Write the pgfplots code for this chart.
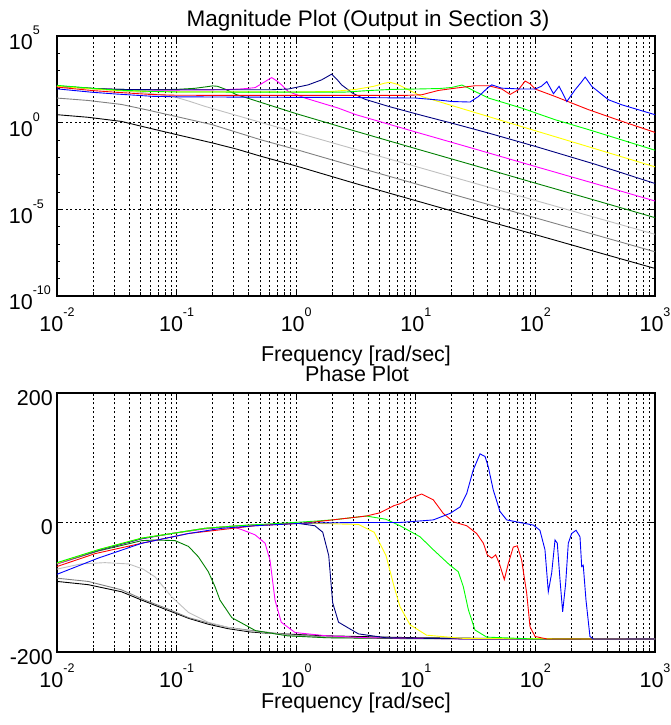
\documentclass[border=0pt]{standalone}
\usepackage{fontspec}
\setmainfont{Liberation Sans}
\usepackage{pgfplots}
\pgfplotsset{compat=1.18}

\definecolor{mgray}{rgb}{0.5,0.5,0.5}
\definecolor{lgray}{rgb}{0.75,0.75,0.75}
\definecolor{dgreen}{rgb}{0,0.5,0}
\definecolor{navy}{rgb}{0,0,0.5}
\definecolor{mag}{rgb}{1,0,1}
\definecolor{yel}{rgb}{1,1,0}
\definecolor{lgreen}{rgb}{0,1,0}
\definecolor{mred}{rgb}{1,0,0}
\definecolor{mblue}{rgb}{0,0,1}

\newcommand\lab{\fontsize{21.5}{24}\selectfont}
\newcommand\sups[1]{\raisebox{15pt}{\fontsize{12.5}{13}\selectfont #1}}

\pgfplotsset{
  every axis plot/.append style={line width=0.9pt, mark=none},
  tick label style={font=\lab},
  grid style={black, line width=0.7pt, dash pattern=on 2pt off 2.5pt},
}

\begin{document}
\begin{tikzpicture}
\useasboundingbox (0pt,0pt) rectangle (670pt,725pt);

% ---------------- magnitude ----------------
\begin{axis}[at={(57pt,429pt)}, anchor=south west,
    scale only axis, width=598pt, height=260pt,
    xmode=log, xmin=1e-2, xmax=1e3,
    xtick={1e-2,1e-1,1,1e1,1e2,1e3},
    minor xtick={2e-2,3e-2,4e-2,5e-2,6e-2,7e-2,8e-2,9e-2,
                 0.2,0.3,0.4,0.5,0.6,0.7,0.8,0.9,2,3,4,5,6,7,8,9,
                 20,30,40,50,60,70,80,90,200,300,400,500,600,700,800,900},
    xticklabels={10\sups{-2},10\sups{-1},10\sups{0},10\sups{1},10\sups{2},10\sups{3}},
    xticklabel style={anchor=north, inner sep=0pt, yshift=-12pt},
    tick align=inside,
    major tick length=6pt, minor tick length=3.5pt,
    tick style={black, line width=0.7pt},
    axis line style={line width=1.3pt},
    xmajorgrids, xminorgrids, ymajorgrids,
    ymode=log, ymin=1e-10, ymax=1e5,
    ytick={1e-10,1e-5,1,1e5},
    minor ytick={1e-9,1e-8,1e-7,1e-6,1e-4,1e-3,1e-2,1e-1,1e1,1e2,1e3,1e4},
    yticklabels={10\rlap{\sups{-10}},10\rlap{\sups{-5}},10\rlap{\sups{0}},10\rlap{\sups{5}}},
    yticklabel style={anchor=east, inner sep=0pt, xshift=-24pt, yshift=-2pt},
  ]
  \addplot[black] coordinates {(1e-2,2.884) (1.820e-2,2.042) (3.467e-2,1.175) (5.623e-2,0.5248) (0.1,0.2042) (0.1995,6.761e-2) (0.3162,3.020e-2) (0.5012,1.175e-2) (1,3.162e-3) (3.162,3.020e-4) (10,3.162e-5) (31.62,3.311e-6) (100,3.467e-7) (316.2,3.631e-8) (1000,3.890e-9)};
  \addplot[mgray] coordinates {(1e-2,26.30) (1.820e-2,19.05) (3.467e-2,11.22) (5.623e-2,5.495) (0.1,2.239) (0.1995,0.7586) (0.3162,0.2818) (0.5012,0.1047) (1,2.818e-2) (3.162,2.818e-3) (10,2.951e-4) (31.62,3.090e-5) (100,3.236e-6) (316.2,3.388e-7) (1000,3.548e-8)};
  \addplot[lgray] coordinates {(1e-2,125.9) (2.512e-2,79.43) (5.012e-2,56.23) (7.943e-2,38.02) (0.1,28.18) (0.1259,17.78) (0.1726,8.710) (0.3162,2.630) (0.5848,0.7762) (3.162,2.818e-2) (10,2.951e-3) (31.62,3.090e-4) (100,3.236e-5) (316.2,3.388e-6) (1000,3.631e-7)};
  \addplot[dgreen] coordinates {(1e-2,131.8) (1.995e-2,95.50) (3.162e-2,83.18) (6.310e-2,79.43) (0.1,83.18) (0.1413,95.50) (0.1778,117.5) (0.1995,131.8) (0.2188,125.9) (0.2512,89.13) (0.3162,41.69) (0.5012,15.14) (1,3.311) (3.162,0.3162) (10,3.162e-2) (31.62,3.236e-3) (100,3.236e-4) (316.2,3.311e-5) (1000,3.311e-6)};
  \addplot[mag] coordinates {(1e-2,125.9) (1.995e-2,93.33) (3.162e-2,83.18) (6.310e-2,75.86) (0.1,75.86) (0.2512,79.43) (0.3548,89.13) (0.4529,104.7) (0.5495,234.4) (0.6237,398.1) (0.6918,251.2) (0.7551,151.4) (0.8590,63.10) (1.186,26.30) (1.633,13.49) (2.249,6.918) (3.162,2.884) (10,0.2884) (31.62,2.951e-2) (100,2.951e-3) (316.2,3.020e-4) (1000,3.020e-5)};
  \addplot[navy] coordinates {(1e-2,125.9) (1.995e-2,93.33) (3.162e-2,83.18) (6.310e-2,79.43) (0.3162,79.43) (0.6237,79.43) (0.8590,87.10) (1.259,151.4) (1.633,295.1) (1.982,631.0) (2.188,316.2) (2.399,151.4) (2.965,50.12) (3.758,22.39) (5.902,8.710) (11.22,2.630) (21.33,0.8318) (40.55,0.2512) (100,4.266e-2) (316.2,3.981e-3) (1000,3.090e-4)};
  \addplot[yel] coordinates {(1e-2,125.9) (1.995e-2,89.13) (3.162e-2,70.79) (6.310e-2,61.66) (0.1,60.26) (1,58.88) (1.995,63.10) (3.162,83.18) (4.467,125.9) (5.495,190.5) (6.095,213.8) (7.079,158.5) (8.147,97.72) (11.22,32.36) (21.33,8.511) (40.55,2.239) (76.91,0.5888) (146.2,0.1549) (278.0,4.074e-2) (1000,2.818e-3)};
  \addplot[lgreen] coordinates {(1e-2,141.3) (1.995e-2,95.50) (3.162e-2,75.86) (6.310e-2,63.10) (0.1,58.88) (1,57.54) (2.512,57.54) (3.981,70.79) (6.310,83.18) (10,87.10) (15.85,93.33) (19.95,107.2) (24.27,147.9) (27.54,100) (31.33,63.10) (40.55,26.30) (76.91,6.918) (146.2,1.479) (278.0,0.3981) (1000,2.570e-2)};
  \addplot[mred] coordinates {(1e-2,112.2) (1.995e-2,70.79) (3.162e-2,56.23) (6.310e-2,41.69) (0.1,38.02) (1,37.15) (7.943,37.15) (11.22,40.74) (15.49,72.44) (21.38,97.72) (31.33,134.9) (40.55,134.9) (52.36,87.10) (61.52,42.66) (72.11,79.43) (82.04,251.2) (90.36,173.8) (99.54,87.10) (146.2,32.36) (278.0,5.623) (527.2,1.202) (1000,0.2754)};
  \addplot[mblue] coordinates {(1e-2,89.13) (1.995e-2,56.23) (3.162e-2,44.67) (6.310e-2,33.11) (0.1,30.90) (1,28.84) (3.162,28.18) (10,26.30) (15.85,19.95) (19.95,16.60) (28.44,15.49) (33.42,32.36) (39.81,100) (43.15,151.4) (52.36,97.72) (76.91,87.10) (99.54,87.10) (112.2,125.9) (124.5,234.4) (141.6,46.77) (157.8,125.9) (183.2,16.60) (214.8,79.43) (239.9,199.5) (260.6,426.6) (296.5,123.0) (408.3,20.89) (527.2,10.72) (1000,2.884)};
\end{axis}

% ---------------- phase ----------------
\begin{axis}[at={(57pt,73pt)}, anchor=south west,
    scale only axis, width=598pt, height=259pt,
    xmode=log, xmin=1e-2, xmax=1e3,
    xtick={1e-2,1e-1,1,1e1,1e2,1e3},
    minor xtick={2e-2,3e-2,4e-2,5e-2,6e-2,7e-2,8e-2,9e-2,
                 0.2,0.3,0.4,0.5,0.6,0.7,0.8,0.9,2,3,4,5,6,7,8,9,
                 20,30,40,50,60,70,80,90,200,300,400,500,600,700,800,900},
    xticklabels={10\sups{-2},10\sups{-1},10\sups{0},10\sups{1},10\sups{2},10\sups{3}},
    xticklabel style={anchor=north, inner sep=0pt, yshift=-12pt},
    tick align=inside,
    major tick length=6pt, minor tick length=3.5pt,
    tick style={black, line width=0.7pt},
    axis line style={line width=1.3pt},
    xmajorgrids, xminorgrids, ymajorgrids,
    ymin=-200, ymax=200, ytick={-200,0,200},
    yticklabels={{-200},{0},{200}},
    yticklabel style={anchor=east, inner sep=0pt, xshift=-4pt, yshift=-5pt},
  ]
  \addplot[black] coordinates {(1e-2,-91) (1.820e-2,-96) (3.467e-2,-107) (5.129e-2,-120) (8.570e-2,-136) (0.1259,-148) (0.1832,-157) (0.2692,-164) (0.4111,-169) (0.5754,-171) (1.799,-175) (10,-178) (100,-179.5) (1000,-180)};
  \addplot[mgray] coordinates {(1e-2,-86) (1.820e-2,-91) (3.467e-2,-104) (5.445e-2,-120) (8.570e-2,-134) (0.1259,-147) (0.1832,-155) (0.2692,-162) (0.3926,-166) (0.8414,-173) (1.799,-177) (10,-179) (1000,-180)};
  \addplot[lgray] coordinates {(1e-2,-72) (1.585e-2,-64) (2.512e-2,-62) (3.981e-2,-64) (5.248e-2,-72) (6.607e-2,-84) (9.120e-2,-115) (0.1259,-139) (0.1832,-154) (0.2692,-162) (0.3926,-167) (0.8414,-174) (1.799,-178) (10,-179.5) (1000,-180)};
  \addplot[dgreen] coordinates {(1e-2,-64) (2.213e-2,-44) (5.129e-2,-28) (6.607e-2,-27) (9.705e-2,-28) (0.1259,-37) (0.1521,-53) (0.1841,-76) (0.2094,-99) (0.2307,-120) (0.2897,-147) (0.4571,-167) (0.8414,-175) (1.799,-178) (10,-179.5) (1000,-180)};
  \addplot[mag] coordinates {(1e-2,-64) (2.213e-2,-43) (5.129e-2,-25) (9.120e-2,-17) (0.1726,-10) (0.2884,-6) (0.3499,-11) (0.4529,-19) (0.5495,-32) (0.6039,-58) (0.6653,-120) (0.7499,-154) (0.9795,-170) (1.799,-175) (3.981,-178) (31.62,-180) (1000,-180)};
  \addplot[navy] coordinates {(1e-2,-63) (2.213e-2,-43) (5.129e-2,-25) (9.120e-2,-17) (0.1726,-9) (0.3281,-5) (1,-1) (1.432,-5) (1.667,-15) (1.871,-51) (2.018,-124) (2.259,-154) (3.311,-172) (5.623,-178) (31.62,-180) (1000,-180)};
  \addplot[yel] coordinates {(1e-2,-63) (2.213e-2,-42) (5.129e-2,-24) (9.120e-2,-17) (0.1726,-9) (0.3281,-5) (1.175,-1) (3.311,-3) (4.487,-15) (5.636,-51) (6.561,-98) (7.379,-130) (8.954,-158) (12.30,-174) (25.12,-179) (1000,-180)};
  \addplot[lgreen] coordinates {(1e-2,-62) (2.213e-2,-42) (5.129e-2,-24) (9.120e-2,-17) (0.1726,-9) (0.3281,-5) (1.175,1) (1.995,4) (3.855,10) (5.623,5) (7.379,-5) (10.84,-22) (14.00,-42) (19.32,-66) (22.65,-76) (24.95,-99) (27.54,-135) (31.26,-166) (39.17,-177) (100,-180) (1000,-180)};
  \addplot[mred] coordinates {(1e-2,-68) (2.089e-2,-48) (5.129e-2,-32) (0.1259,-17) (0.2382,-11) (0.4529,-5) (1.175,-1) (1.799,3) (3.855,10) (5.012,15) (6.561,26) (7.379,29) (8.954,37) (11.19,44) (14.00,35) (16.98,14) (20.61,1) (26.67,-5) (32.28,-17) (36.73,-32) (39.63,-50) (43.15,-55) (46.56,-50) (49.89,-63) (54.95,-88) (59.43,-63) (65.31,-38) (70.63,-36) (76.74,-58) (84.53,-109) (90.16,-161) (99.31,-176) (125.9,-180) (1000,-180)};
  \addplot[mblue] coordinates {(1e-2,-80) (2.213e-2,-55) (5.129e-2,-32) (0.1259,-17) (0.2382,-9) (0.4529,-5) (1.175,-1) (3.162,0) (7.379,0) (14.00,4) (19.32,14) (23.44,24) (26.67,45) (30.20,81) (34.43,106) (37.93,102) (40.36,86) (44.46,50) (50.58,17) (57.54,4) (74.30,0) (96.16,-4) (109.1,-12) (120.2,-42) (128.2,-107) (136.8,-78) (145.9,-27) (152.4,-32) (160.7,-89) (169.0,-138) (179.1,-94) (188.4,-32) (200.9,-17) (218.8,-12) (236.0,-22) (243.8,-68) (251.2,-66) (264.9,-120) (285.8,-176) (304.8,-180) (1000,-180)};
\end{axis}

\node[anchor=base, font=\fontsize{22.5}{25}\selectfont] at (368pt,698.5pt) {Magnitude Plot (Output in Section 3)};
\node[anchor=base, font=\lab] at (356pt,363.5pt) {Frequency [rad/sec]};
\node[anchor=base, font=\lab] at (357pt,343.5pt) {Phase Plot};
\node[anchor=base, font=\lab] at (356pt,16.5pt) {Frequency [rad/sec]};
\end{tikzpicture}
\end{document}
